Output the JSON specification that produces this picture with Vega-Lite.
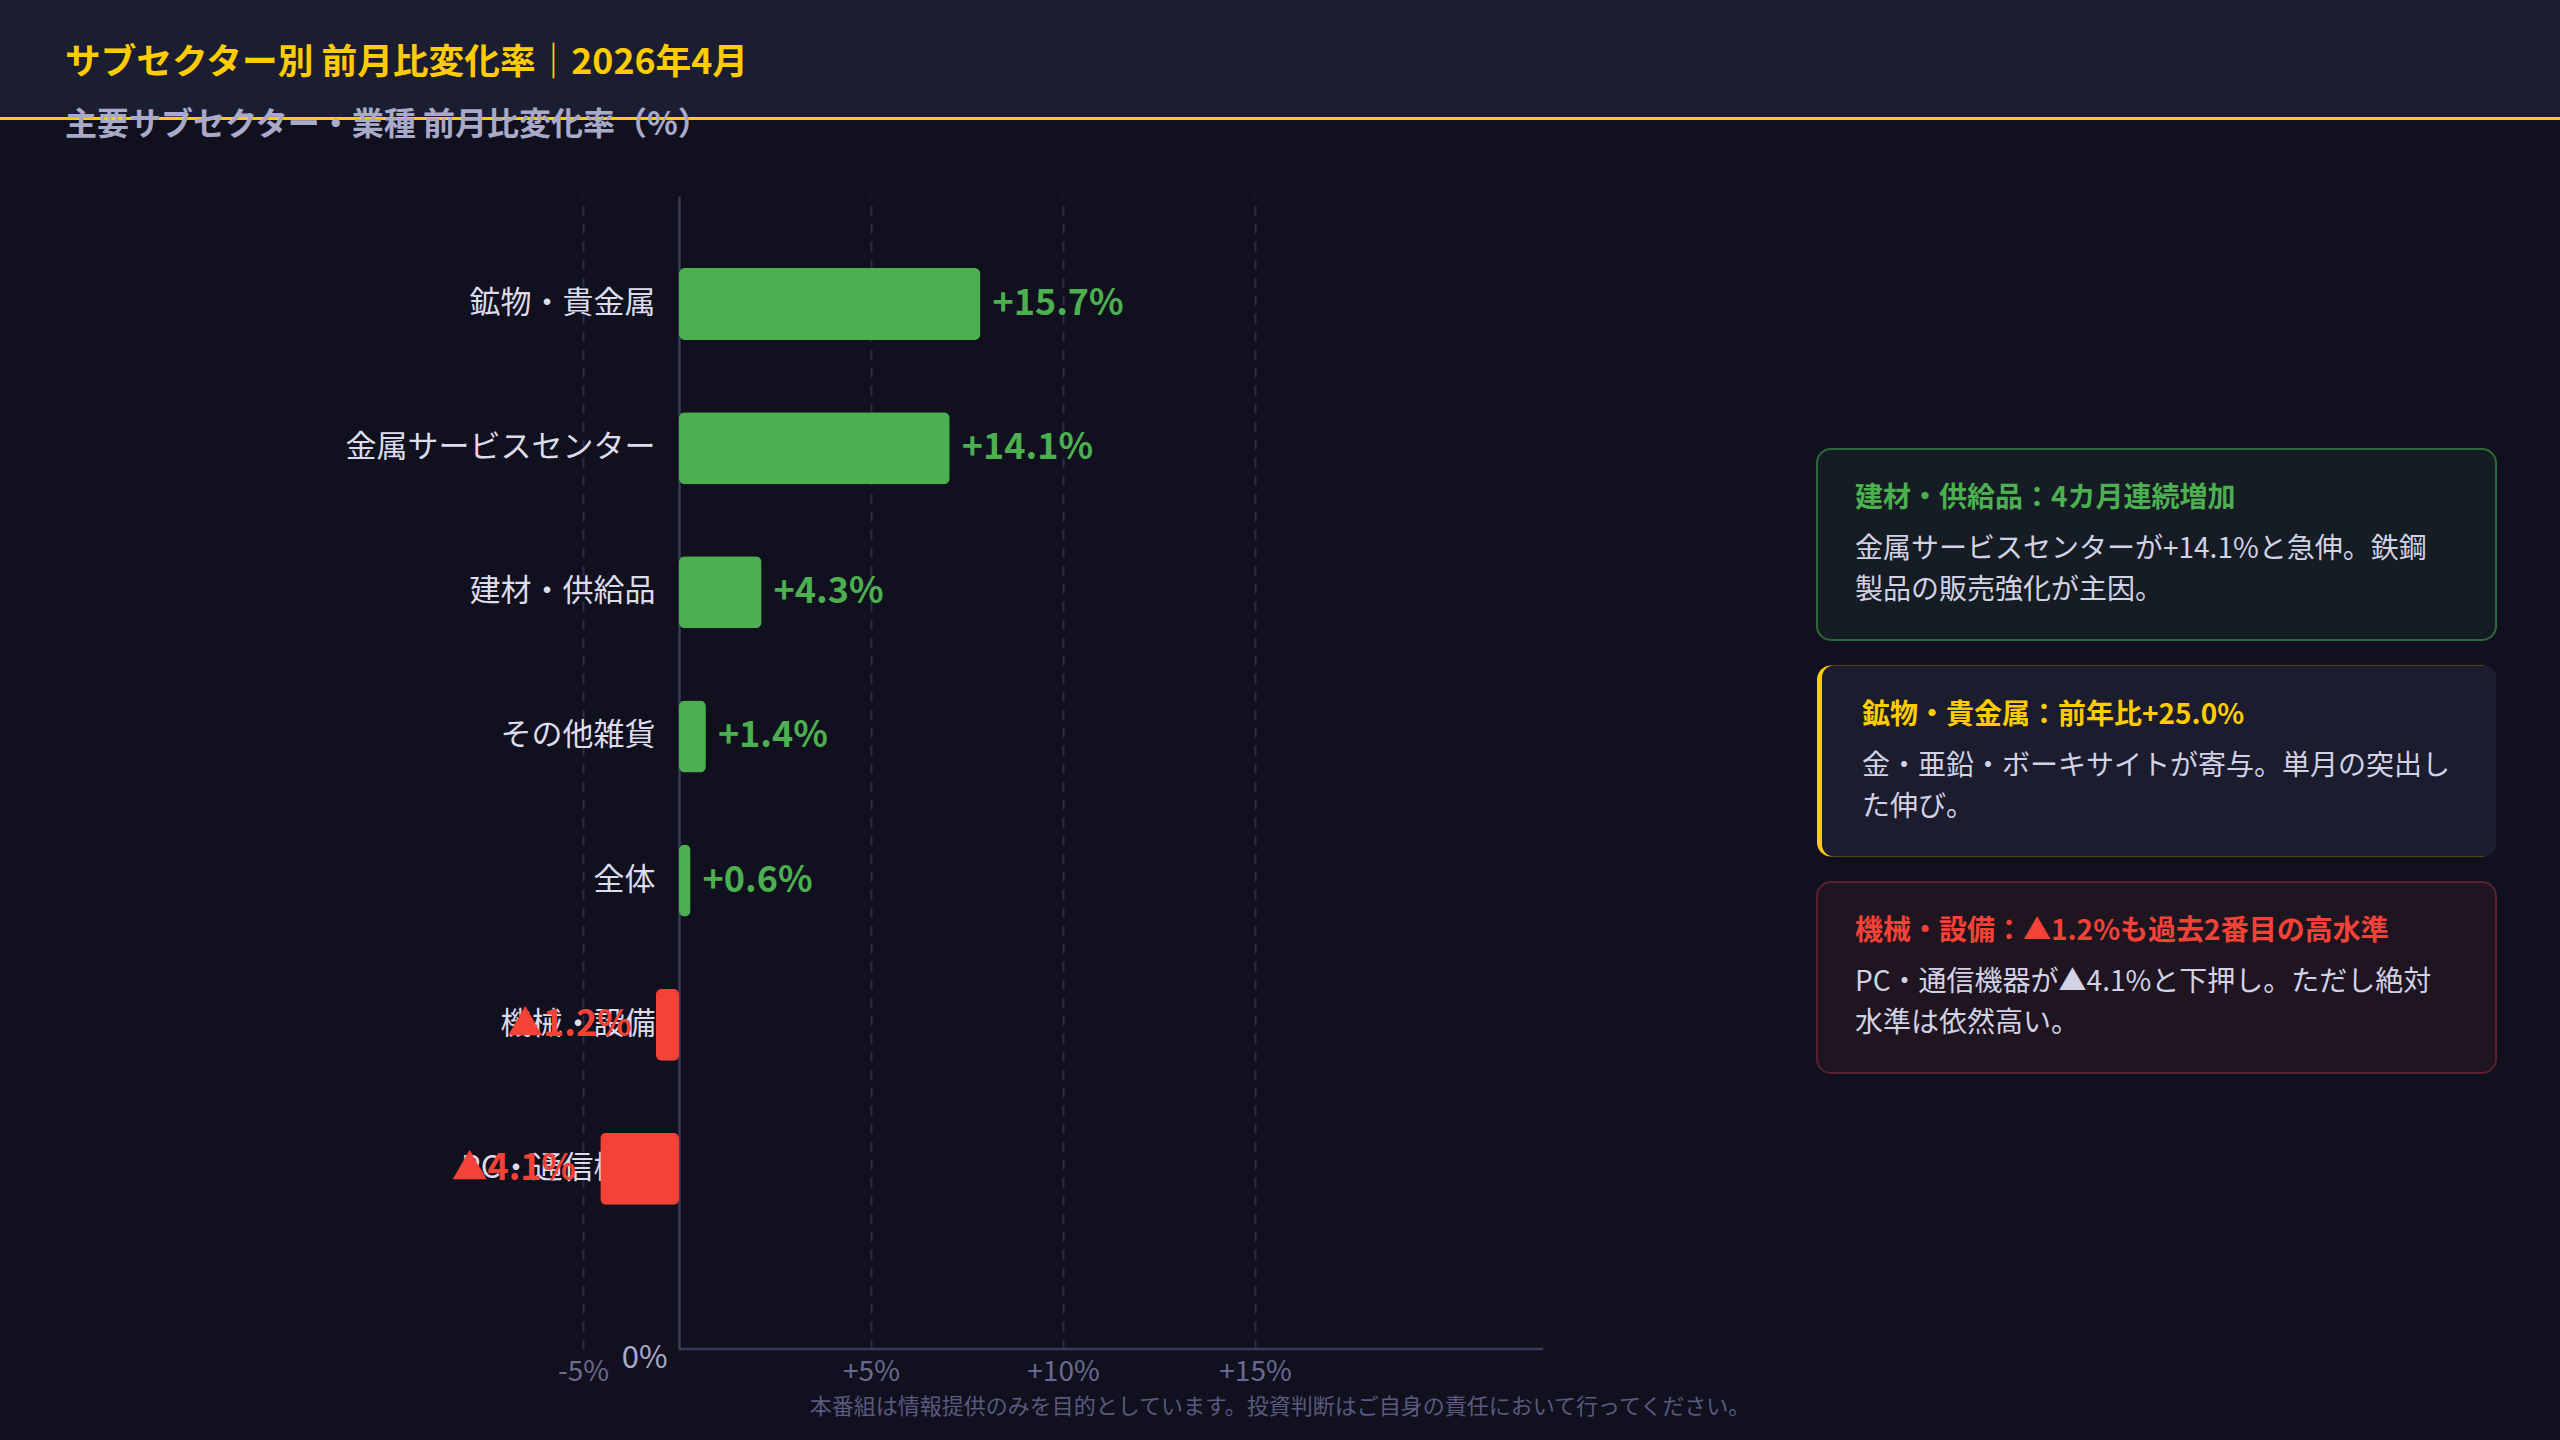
{
  "$schema": "https://vega.github.io/schema/vega-lite/v6.json",
  "background": "#10101e",
  "padding": {"left": 0, "top": 0, "right": 0, "bottom": 30},
  "bounds": "flush",
  "spacing": 76,
  "title": {
    "text": "本番組は情報提供のみを目的としています。投資判断はご自身の責任において行ってください。",
    "orient": "bottom",
    "anchor": "middle",
    "fontSize": 22,
    "fontWeight": "normal",
    "color": "#5a5a7e",
    "offset": 11
  },
  "config": {
    "font": "Noto Sans CJK JP",
    "view": {"stroke": null}
  },
  "vconcat": [
    {
      "width": 2560,
      "height": 120,
      "view": {"fill": "#1b1d31", "stroke": null},
      "data": {"values": [
        {"line": "title", "text": "サブセクター別 前月比変化率｜2026年4月"},
        {"line": "subtitle", "text": "主要サブセクター・業種 前月比変化率（%）"}
      ]},
      "layer": [
        {
          "mark": {"type": "rule", "color": "#ffcc00", "strokeWidth": 6, "clip": true},
          "encoding": {
            "y": {"datum": "subtitle", "type": "ordinal", "scale": {"type": "point", "domain": ["title", "subtitle"], "padding": 0.5, "align": 1}, "axis": null}
          }
        },
        {
          "transform": [{"filter": "datum.line === 'title'"}],
          "mark": {"type": "text", "align": "left", "baseline": "middle", "dx": 65, "dy": 3, "fontWeight": "bold", "fontSize": 35.7, "color": "#ffcc00"},
          "encoding": {
            "x": {"datum": 0, "type": "quantitative", "scale": {"domain": [0, 1]}, "axis": null},
            "y": {"field": "line", "type": "ordinal", "scale": {"type": "point", "domain": ["title", "subtitle"], "padding": 0.5, "align": 1}, "axis": null},
            "text": {"field": "text", "type": "nominal"}
          }
        },
        {
          "transform": [{"filter": "datum.line === 'subtitle'"}],
          "mark": {"type": "text", "align": "left", "baseline": "middle", "dx": 65, "dy": 5, "fontWeight": "bold", "fontSize": 32, "color": "#a9a9c9"},
          "encoding": {
            "x": {"datum": 0, "type": "quantitative", "scale": {"domain": [0, 1]}, "axis": null},
            "y": {"field": "line", "type": "ordinal", "scale": {"type": "point", "domain": ["title", "subtitle"], "padding": 0.5, "align": 1}, "axis": null},
            "text": {"field": "text", "type": "nominal"}
          }
        }
      ]
    },
    {
      "hconcat": [
        {
          "width": 309,
          "height": 1153,
          "data": {"values": [{}]},
          "mark": {"type": "point", "opacity": 0},
          "encoding": {}
        },
        {
          "width": 960,
          "height": 1153,
          "layer": [
            {
              "data": {"values": [
                {"name": "鉱物・貴金属", "value": 15.7, "label": "+15.7%"},
                {"name": "金属サービスセンター", "value": 14.1, "label": "+14.1%"},
                {"name": "建材・供給品", "value": 4.3, "label": "+4.3%"},
                {"name": "その他雑貨", "value": 1.4, "label": "+1.4%"},
                {"name": "全体", "value": 0.6, "label": "+0.6%"},
                {"name": "機械・設備", "value": -1.2, "label": "▲1.2%"},
                {"name": "PC・通信機器", "value": -4.1, "label": "▲4.1%"}
              ]},
              "encoding": {
                "y": {
                  "field": "name", "type": "nominal", "sort": null,
                  "scale": {"paddingInner": 0.5, "paddingOuter": 0.75, "align": 0.3333},
                  "axis": {
                    "title": null, "orient": "left", "offset": -96,
                    "domain": true, "domainColor": "#3a3a5c", "domainWidth": 2.5,
                    "ticks": false, "tickSize": 0, "labelPadding": 24,
                    "labelFontSize": 31, "labelColor": "#dcdcec", "labelLimit": 0, "grid": false
                  }
                }
              },
              "layer": [
                {
                  "mark": {"type": "bar", "cornerRadius": 6},
                  "encoding": {
                    "x": {
                      "field": "value", "type": "quantitative",
                      "scale": {"domain": [-5, 45], "nice": false},
                      "axis": {
                        "title": null,
                        "values": [-5, 0, 10, 20, 30],
                        "labelExpr": "datum.value === -5 ? '-5%' : datum.value === 0 ? '0%' : datum.value === 10 ? '+5%' : datum.value === 20 ? '+10%' : '+15%'",
                        "domain": false, "ticks": false,
                        "grid": true, "gridColor": "#2b2b4c", "gridDash": [10, 8], "gridWidth": 2,
                        "gridOpacity": {"condition": {"test": "datum.value === 0", "value": 0}, "value": 1},
                        "labelFontSize": {"condition": {"test": "datum.value === 0", "value": 31}, "value": 28},
                        "labelColor": {"condition": {"test": "datum.value === 0", "value": "#a9a9c9"}, "value": "#6b6b8f"},
                        "labelAlign": {"condition": {"test": "datum.value === 0", "value": "right"}, "value": "center"},
                        "labelBaseline": {"condition": {"test": "datum.value === 0", "value": "middle"}, "value": "top"},
                        "labelOffset": {"condition": {"test": "datum.value === 0", "value": -12}, "value": 0},
                        "labelPadding": 9,
                        "labelFlush": false,
                        "labelOverlap": false
                      }
                    },
                    "color": {"condition": {"test": "datum.value >= 0", "value": "#4caf50"}, "value": "#f44336"}
                  }
                },
                {
                  "transform": [{"filter": "datum.value >= 0"}],
                  "mark": {"type": "text", "align": "left", "baseline": "middle", "dx": 12, "fontSize": 36, "fontWeight": "bold", "color": "#4caf50"},
                  "encoding": {
                    "x": {"field": "value", "type": "quantitative"},
                    "text": {"field": "label", "type": "nominal"}
                  }
                },
                {
                  "transform": [{"filter": "datum.value < 0"}],
                  "mark": {"type": "text", "align": "right", "baseline": "middle", "dx": -24, "fontSize": 36, "fontWeight": "bold", "color": "#f44336"},
                  "encoding": {
                    "x": {"field": "value", "type": "quantitative"},
                    "text": {"field": "label", "type": "nominal"}
                  }
                }
              ]
            },
            {
              "data": {"values": [{}]},
              "mark": {"type": "rule", "color": "#3a3a5c", "strokeWidth": 2.5},
              "encoding": {
                "x": {"datum": 0, "type": "quantitative"},
                "x2": {"datum": 45},
                "y": {"datum": 0, "type": "quantitative", "scale": {"domain": [0, 1]}, "axis": null}
              }
            }
          ],
          "resolve": {"scale": {"y": "independent"}}
        },
        {
          "vconcat": [
            {
              "width": 679,
              "height": 253,
              "data": {"values": [{}]},
              "mark": {"type": "point", "opacity": 0},
              "encoding": {}
            },
            {
              "width": 679,
              "height": 624,
              "data": {"values": [
                {"box": "b1", "title": "建材・供給品：4カ月連続増加", "body": ["金属サービスセンターが+14.1%と急伸。鉄鋼", "製品の販売強化が主因。"]},
                {"box": "b2", "title": "鉱物・貴金属：前年比+25.0%", "body": ["金・亜鉛・ボーキサイトが寄与。単月の突出し", "た伸び。"]},
                {"box": "b3", "title": "機械・設備：▲1.2%も過去2番目の高水準", "body": ["PC・通信機器が▲4.1%と下押し。ただし絶対", "水準は依然高い。"]}
              ]},
              "encoding": {
                "y": {"field": "box", "type": "nominal", "scale": {"domain": ["b1", "b2", "b3"], "paddingInner": 0.1178, "paddingOuter": 0}, "axis": null}
              },
              "layer": [
                {
                  "mark": {"type": "rect", "cornerRadius": 14, "strokeWidth": 2},
                  "encoding": {
                    "x": {"datum": 0, "type": "quantitative", "scale": {"domain": [0, 1]}, "axis": null},
                    "x2": {"datum": 1},
                    "fill": {"field": "box", "type": "nominal", "scale": {"domain": ["b1", "b2", "b3"], "range": ["#161c23", "#ffcc00", "#1f1521"]}, "legend": null},
                    "stroke": {"field": "box", "type": "nominal", "scale": {"domain": ["b1", "b2", "b3"], "range": ["#2e6a37", "rgba(0,0,0,0)", "#5a2230"]}, "legend": null}
                  }
                },
                {
                  "transform": [{"filter": "datum.box === 'b2'"}],
                  "mark": {"type": "rect", "cornerRadius": 12, "fill": "#1b1c2e", "xOffset": 5},
                  "encoding": {
                    "x": {"datum": 0, "type": "quantitative", "scale": {"domain": [0, 1]}, "axis": null},
                    "x2": {"datum": 1}
                  }
                },
                {
                  "transform": [{"filter": "datum.box !== 'b2'"}],
                  "mark": {"type": "text", "align": "left", "baseline": "middle", "dx": 38, "fontSize": 28, "fontWeight": "bold"},
                  "encoding": {
                    "x": {"datum": 0, "type": "quantitative", "scale": {"domain": [0, 1]}, "axis": null},
                    "y": {"field": "box", "type": "nominal", "bandPosition": 0.262},
                    "text": {"field": "title", "type": "nominal"},
                    "color": {"field": "box", "type": "nominal", "scale": {"domain": ["b1", "b2", "b3"], "range": ["#4caf50", "#ffcc00", "#f44336"]}, "legend": null}
                  }
                },
                {
                  "transform": [{"filter": "datum.box === 'b2'"}],
                  "mark": {"type": "text", "align": "left", "baseline": "middle", "dx": 45, "fontSize": 28, "fontWeight": "bold"},
                  "encoding": {
                    "x": {"datum": 0, "type": "quantitative", "scale": {"domain": [0, 1]}, "axis": null},
                    "y": {"field": "box", "type": "nominal", "bandPosition": 0.262},
                    "text": {"field": "title", "type": "nominal"},
                    "color": {"field": "box", "type": "nominal", "scale": {"domain": ["b1", "b2", "b3"], "range": ["#4caf50", "#ffcc00", "#f44336"]}, "legend": null}
                  }
                },
                {
                  "transform": [{"filter": "datum.box !== 'b2'"}],
                  "mark": {"type": "text", "align": "left", "baseline": "alphabetic", "dx": 38, "fontSize": 28, "lineHeight": 41, "color": "#d2d2e6"},
                  "encoding": {
                    "x": {"datum": 0, "type": "quantitative", "scale": {"domain": [0, 1]}, "axis": null},
                    "y": {"field": "box", "type": "nominal", "bandPosition": 0.573},
                    "text": {"field": "body", "type": "nominal"}
                  }
                },
                {
                  "transform": [{"filter": "datum.box === 'b2'"}],
                  "mark": {"type": "text", "align": "left", "baseline": "alphabetic", "dx": 45, "fontSize": 28, "lineHeight": 41, "color": "#d2d2e6"},
                  "encoding": {
                    "x": {"datum": 0, "type": "quantitative", "scale": {"domain": [0, 1]}, "axis": null},
                    "y": {"field": "box", "type": "nominal", "bandPosition": 0.573},
                    "text": {"field": "body", "type": "nominal"}
                  }
                }
              ]
            }
          ],
          "spacing": 0,
          "bounds": "flush"
        }
      ],
      "spacing": 274,
      "bounds": "flush"
    }
  ]
}
